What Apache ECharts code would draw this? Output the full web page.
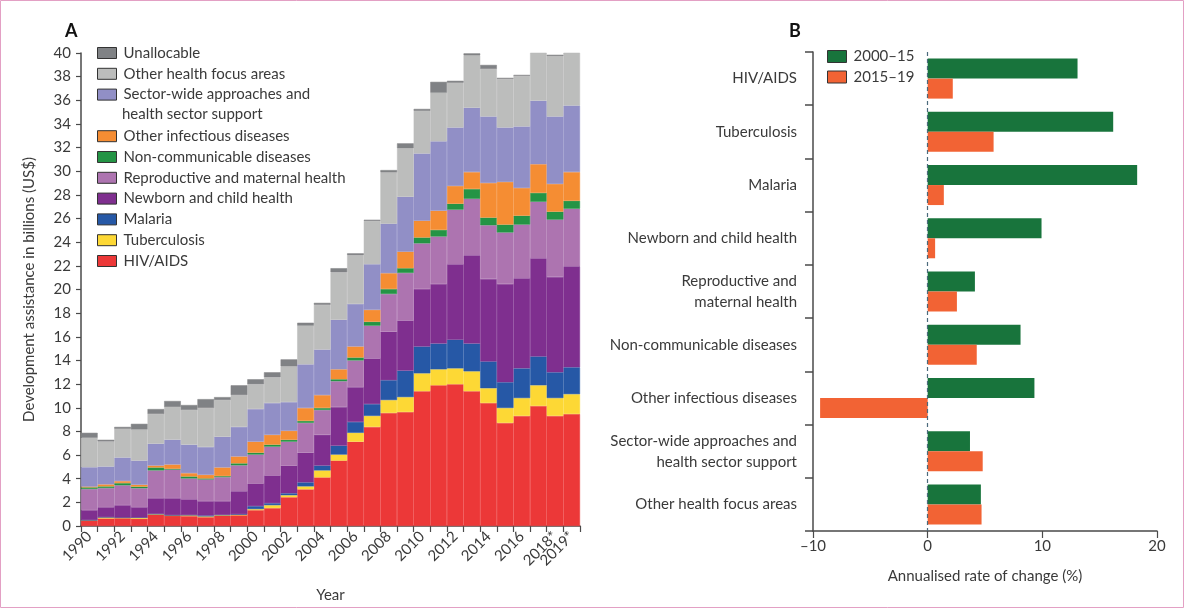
<!DOCTYPE html>
<html>
<head>
<meta charset="utf-8">
<script src="https://cdn.jsdelivr.net/npm/echarts@6/dist/echarts.min.js"></script>
<style>
html,body{margin:0;padding:0;background:#fff;}
#c{width:1184px;height:608px;}
</style>
</head>
<body>
<div id="c"></div>
<script>
// ---------- Panel A data (billions US$) ----------
const years = ['1990','1991','1992','1993','1994','1995','1996','1997','1998','1999','2000','2001','2002','2003','2004','2005','2006','2007','2008','2009','2010','2011','2012','2013','2014','2015','2016','2017','2018*','2019*'];
const hivAids   = [0.45,0.64,0.67,0.61,0.95,0.87,0.84,0.75,0.87,0.92,1.34,1.51,2.43,3.10,4.11,5.53,7.13,8.38,9.56,9.64,11.40,11.90,11.99,11.40,10.40,8.72,9.31,10.15,9.31,9.47];
const tuberculosis = [0.02,0.09,0.03,0.09,0.05,0.02,0.08,0.06,0.05,0.03,0.09,0.25,0.17,0.25,0.59,0.51,0.75,0.93,1.09,1.26,1.51,1.35,1.34,1.68,1.25,1.26,1.51,1.75,1.51,1.68];
const malaria   = [0.03,0.02,0.02,0.02,0.03,0.03,0.01,0.08,0.03,0.05,0.25,0.17,0.17,0.34,0.41,0.75,0.92,1.00,1.68,2.24,2.27,2.18,2.43,2.35,2.27,2.18,2.51,2.44,2.18,2.27];
const newbornChild = [0.84,0.84,1.04,0.87,1.32,1.43,1.33,1.21,1.15,1.94,1.92,2.35,2.34,2.51,2.60,3.27,2.94,3.86,4.10,4.24,4.86,5.03,6.38,7.46,6.96,8.30,7.63,8.30,8.05,8.55];
const reproMaternal = [1.79,1.62,1.68,1.60,2.35,2.43,1.76,1.84,2.03,2.19,2.44,2.43,2.02,2.52,2.10,2.18,2.26,2.77,3.19,4.02,3.86,4.02,4.61,4.78,4.55,4.36,4.53,4.78,4.86,4.86];
const nonCommunicable = [0.14,0.14,0.19,0.14,0.25,0.06,0.17,0.08,0.09,0.17,0.16,0.17,0.16,0.17,0.17,0.17,0.25,0.33,0.42,0.40,0.50,0.56,0.50,0.83,0.65,0.67,0.75,0.75,0.67,0.67];
const otherInfectious = [0.06,0.17,0.17,0.16,0.16,0.36,0.28,0.31,0.73,0.58,0.93,0.83,0.76,1.09,1.09,0.84,0.93,1.01,1.34,1.40,1.42,1.62,1.51,1.43,2.93,3.61,2.35,2.43,2.35,2.43];
const sectorWide = [1.64,1.51,1.99,2.04,1.85,2.10,2.41,2.35,2.60,2.50,2.76,2.69,2.43,3.69,3.85,4.19,3.60,3.86,4.19,4.64,5.68,5.87,4.94,5.45,5.62,4.60,5.20,5.37,5.70,5.62];
const otherFocus = [2.49,2.12,2.43,2.63,2.51,2.76,2.93,3.30,3.10,2.69,2.10,2.18,3.02,3.27,3.78,4.02,4.12,3.66,4.33,4.10,3.60,4.11,3.78,4.42,4.02,4.11,4.28,4.61,5.11,4.95];
const unallocable = [0.42,0.14,0.16,0.48,0.42,0.51,0.42,0.75,0.25,0.83,0.42,0.42,0.59,0.25,0.17,0.34,0.16,0.10,0.20,0.42,0.17,0.92,0.17,0.17,0.34,0.09,0.08,0.17,0.11,0.17];
const yTicksA = [0,2,4,6,8,10,12,14,16,18,20,22,24,26,28,30,32,34,36,38,40];

// ---------- Panel B data (annualised rate of change, %) ----------
const areasB = ['HIV/AIDS','Tuberculosis','Malaria','Newborn and child health','Reproductive and\nmaternal health','Non-communicable diseases','Other infectious diseases','Sector-wide approaches and\nhealth sector support','Other health focus areas'];
const rate2000_15 = [13.07,16.18,18.27,9.93,4.12,8.10,9.31,3.69,4.64];
const rate2015_19 = [2.19,5.75,1.41,0.65,2.55,4.28,-9.38,4.80,4.70];
const xTicksB = [-10,0,10,20];

const SWAP = 'Sector-wide approaches and health sector support';
const seriesA = [
  ['HIV/AIDS', hivAids, '#ec3838'],
  ['Tuberculosis', tuberculosis, '#fdd835'],
  ['Malaria', malaria, '#2658a6'],
  ['Newborn and child health', newbornChild, '#7f2f8f'],
  ['Reproductive and maternal health', reproMaternal, '#ad74b0'],
  ['Non-communicable diseases', nonCommunicable, '#249445'],
  ['Other infectious diseases', otherInfectious, '#f58d33'],
  [SWAP, sectorWide, '#918fc6'],
  ['Other health focus areas', otherFocus, '#bcbdbc'],
  ['Unallocable', unallocable, '#808285']
];

const FONT = 'Lato';
const TXT = '#3a3a3a';
const AX = '#4a4a4a';
const chart = echarts.init(document.getElementById('c'), null, {renderer:'canvas'});

const legendCommon = {
  orient:'vertical', padding:0, itemWidth:19, itemHeight:11, itemGap:4.8,
  icon:'rect',
  itemStyle:{borderColor:'#333', borderWidth:1},
  textStyle:{fontFamily:FONT, fontSize:15, color:TXT, lineHeight:16, padding:[0,0,0,2]},
  selectedMode:false
};
const yearLabel = {rotate:45, margin:8, fontFamily:FONT, fontSize:15, color:TXT, hideOverlap:false};

const option = {
  animation:false,
  textStyle:{fontFamily:FONT},
  title:[
    {text:'A', left:60, top:17, textStyle:{fontFamily:FONT, fontSize:18, fontWeight:'bold', color:'#111'}},
    {text:'B', left:784, top:17, textStyle:{fontFamily:FONT, fontSize:18, fontWeight:'bold', color:'#111'}}
  ],
  graphic:[
    {type:'rect', shape:{x:0.5,y:0.5,width:1183,height:607}, style:{fill:'none', stroke:'#e3a0c4', lineWidth:1}, silent:true},
    {type:'text', left:122, top:107, style:{text:'health sector support', font:'15px '+FONT, fill:TXT}}
  ],
  legend:[
    Object.assign({}, legendCommon, {left:97, top:45,
      data:['Unallocable','Other health focus areas',SWAP],
      formatter:n => n===SWAP ? 'Sector-wide approaches and' : n}),
    Object.assign({}, legendCommon, {left:97, top:128.2,
      data:['Other infectious diseases','Non-communicable diseases','Reproductive and maternal health','Newborn and child health','Malaria','Tuberculosis','HIV/AIDS']}),
    Object.assign({}, legendCommon, {left:827, top:48.5, itemWidth:19, itemHeight:12, itemGap:4.5,
      data:['2000–15','2015–19']})
  ],
  grid:[
    {left:81, right:604, top:53, bottom:78},
    {left:813, right:27, top:52, bottom:77}
  ],
  xAxis:[
    {type:'category', gridIndex:0, data:years,
     name:'Year', nameLocation:'middle', nameGap:62,
     nameTextStyle:{fontFamily:FONT, fontSize:15, color:TXT},
     axisLine:{lineStyle:{color:AX, width:1.5}},
     axisTick:{show:true, interval:0, length:6, lineStyle:{color:AX, width:1.2}},
     axisLabel:Object.assign({}, yearLabel, {interval:(i)=> i%2===0})},
    {type:'value', gridIndex:1, min:xTicksB[0], max:xTicksB[xTicksB.length-1], interval:10,
     name:'Annualised rate of change (%)', nameLocation:'middle', nameGap:38,
     nameTextStyle:{fontFamily:FONT, fontSize:15, color:TXT},
     splitLine:{show:false},
     axisLine:{show:true, onZero:false, lineStyle:{color:AX, width:1.5}},
     axisTick:{show:true, length:7, lineStyle:{color:AX, width:1.2}},
     axisLabel:{margin:8, fontFamily:FONT, fontSize:15, color:TXT,
       formatter:v => String(v).replace('-', '–')}},
    {type:'category', gridIndex:0, data:years, position:'bottom', offset:0,
     axisLine:{show:false}, axisTick:{show:false}, splitLine:{show:false},
     axisLabel:Object.assign({}, yearLabel, {interval:(i)=> i===29, showMaxLabel:true})}
  ],
  yAxis:[
    {type:'value', gridIndex:0, min:yTicksA[0], max:yTicksA[yTicksA.length-1], interval:2,
     name:'Development assistance in billions (US$)', nameLocation:'middle', nameGap:44,
     nameTextStyle:{fontFamily:FONT, fontSize:15, color:TXT},
     splitLine:{show:false},
     axisLine:{show:true, onZero:false, lineStyle:{color:AX, width:1.5}},
     axisTick:{show:true, length:5, lineStyle:{color:AX, width:1.2}},
     axisLabel:{margin:10, fontFamily:FONT, fontSize:15, color:TXT}},
    {type:'category', gridIndex:1, data:areasB, inverse:true,
     axisLine:{show:true, onZero:false, lineStyle:{color:AX, width:1.5}},
     axisTick:{show:true, length:8, lineStyle:{color:AX, width:1.5}},
     axisLabel:{margin:16, fontFamily:FONT, fontSize:15, color:TXT, lineHeight:21, align:'right'}}
  ],
  series: seriesA.map(([name, data, color]) => ({
    name, type:'bar', stack:'a', xAxisIndex:0, yAxisIndex:0, data,
    barCategoryGap:'0%',
    itemStyle:{color, borderColor:color, borderWidth:0.5},
    emphasis:{disabled:true}
  })).concat([
    {name:'2000–15', type:'bar', xAxisIndex:1, yAxisIndex:1, data:rate2000_15,
     barWidth:20, barGap:'0%',
     itemStyle:{color:'#18743c'}, emphasis:{disabled:true},
     markLine:{silent:true, symbol:'none', label:{show:false},
       lineStyle:{color:'#4b6a7c', type:[4,3], width:1.2},
       data:[{xAxis:0}]}},
    {name:'2015–19', type:'bar', xAxisIndex:1, yAxisIndex:1, data:rate2015_19,
     barWidth:20, barGap:'0%',
     itemStyle:{color:'#f26334'}, emphasis:{disabled:true}}
  ])
};
chart.setOption(option);
</script>
</body>
</html>
